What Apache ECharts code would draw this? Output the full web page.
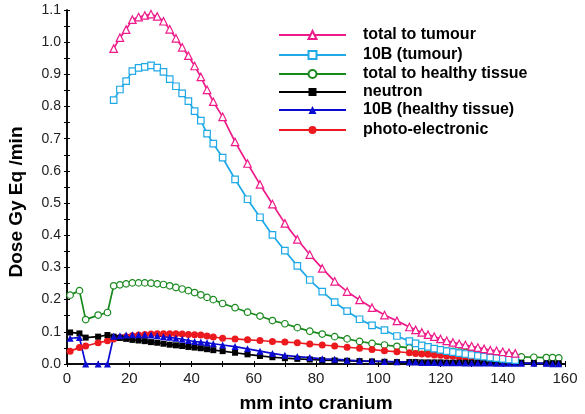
<!DOCTYPE html>
<html>
<head>
<meta charset="utf-8">
<script src="https://cdn.jsdelivr.net/npm/echarts@6/dist/echarts.min.js"></script>
<style>
  html, body { margin: 0; padding: 0; background: #fff; }
  #main { width: 585px; height: 414px; }
</style>
</head>
<body>
<div id="main"></div>
<script>
// depth (mm) sample positions
var xNear = [1, 4, 6, 10, 13];
var xMid = [15, 17, 19, 21, 23, 25, 27, 29, 31, 33, 35, 37, 39, 41, 43, 45, 47,
            50, 54, 58, 62, 66, 70, 74, 78, 82, 86, 90, 94, 98, 102, 106, 110,
            112, 114, 116, 118, 120, 122, 124, 126, 128, 130, 132, 134, 136, 138, 140, 142, 144];
var xTail = [146, 150, 154, 156, 158];

// total to tumour (xMid)
var totalTumour = [0.98, 1.014, 1.039, 1.07, 1.078, 1.083, 1.087, 1.08, 1.065, 1.04, 1.012, 0.984, 0.958, 0.926, 0.892, 0.852, 0.815,
  0.768, 0.69, 0.623, 0.558, 0.497, 0.437, 0.387, 0.34, 0.297, 0.257, 0.225, 0.199, 0.175, 0.152, 0.134, 0.115,
  0.106, 0.098, 0.091, 0.085, 0.078, 0.072, 0.067, 0.063, 0.059, 0.055, 0.051, 0.047, 0.043, 0.041, 0.038, 0.035, 0.033];
// 10B (tumour) (xMid)
var boronTumour = [0.82, 0.853, 0.879, 0.91, 0.92, 0.923, 0.928, 0.921, 0.908, 0.885, 0.863, 0.841, 0.817, 0.786, 0.756, 0.716, 0.685,
  0.641, 0.574, 0.512, 0.456, 0.401, 0.352, 0.305, 0.261, 0.225, 0.192, 0.164, 0.139, 0.12, 0.105, 0.087, 0.071,
  0.064, 0.058, 0.053, 0.048, 0.044, 0.04, 0.037, 0.034, 0.031, 0.028, 0.025, 0.023, 0.02, 0.018, 0.016, 0.014, 0.012];
// total to healthy tissue (xNear + xMid + xTail)
var totalHealthy = [0.214, 0.228, 0.138, 0.152, 0.16,
  0.243, 0.246, 0.249, 0.252, 0.252, 0.252, 0.251, 0.249, 0.247, 0.243, 0.238, 0.233, 0.228, 0.222, 0.215, 0.207, 0.2,
  0.188, 0.175, 0.161, 0.149, 0.135, 0.125, 0.113, 0.102, 0.093, 0.085, 0.078, 0.07, 0.064, 0.059, 0.055, 0.05,
  0.048, 0.046, 0.045, 0.043, 0.042, 0.04, 0.039, 0.037, 0.036, 0.034, 0.033, 0.031, 0.03, 0.029, 0.027, 0.026, 0.024,
  0.022, 0.021, 0.02, 0.02, 0.019];
// neutron (xNear + xMid + xTail)
var neutron = [0.098, 0.095, 0.082, 0.085, 0.09,
  0.085, 0.081, 0.078, 0.075, 0.073, 0.071, 0.068, 0.066, 0.063, 0.06, 0.058, 0.056, 0.053, 0.051, 0.049, 0.046, 0.043,
  0.04, 0.035, 0.03, 0.025, 0.021, 0.018, 0.016, 0.014, 0.012, 0.011, 0.01, 0.009, 0.008, 0.007, 0.006, 0.006,
  0.006, 0.005, 0.005, 0.005, 0.005, 0.004, 0.004, 0.004, 0.004, 0.004, 0.003, 0.003, 0.003, 0.003, 0.003, 0.003, 0.003,
  0.003, 0.003, 0.002, 0.002, 0.002];
// 10B (healthy tissue) (xNear + xMid + xTail)
var boronHealthy = [0.08, 0.082, 0, 0, 0,
  0.086, 0.088, 0.09, 0.091, 0.091, 0.091, 0.09, 0.088, 0.085, 0.083, 0.08, 0.077, 0.073, 0.07, 0.068, 0.066, 0.063,
  0.059, 0.054, 0.047, 0.04, 0.033, 0.027, 0.023, 0.02, 0.016, 0.015, 0.012, 0.01, 0.009, 0.008, 0.007, 0.006,
  0.006, 0.005, 0.005, 0.005, 0.004, 0.004, 0.004, 0.004, 0.003, 0.003, 0.003, 0.003, 0.003, 0.002, 0.002, 0.002, 0.002,
  0.002, 0.002, 0.002, 0.001, 0.001];
// photo-electronic (xNear + xMid)
var photo = [0.04, 0.051, 0.056, 0.066, 0.072,
  0.078, 0.082, 0.085, 0.088, 0.09, 0.092, 0.093, 0.094, 0.094, 0.094, 0.094, 0.093, 0.092, 0.091, 0.09, 0.087, 0.084,
  0.08, 0.078, 0.075, 0.073, 0.07, 0.068, 0.066, 0.062, 0.059, 0.056, 0.052, 0.049, 0.045, 0.041, 0.038, 0.035,
  0.033, 0.031, 0.03, 0.028, 0.027, 0.025, 0.024, 0.022, 0.021, 0.02, 0.019, 0.018, 0.017, 0.016, 0.015, 0.014, 0.013];

var legendNames = ['total to tumour', '10B (tumour)', 'total to healthy tissue', 'neutron', '10B (healthy tissue)', 'photo-electronic'];
var yTicks = ['0.0', '0.1', '0.2', '0.3', '0.4', '0.5', '0.6', '0.7', '0.8', '0.9', '1.0', '1.1'];

var FONT = '"Liberation Sans", Arial, Helvetica, sans-serif';

function pairs(xs, ys) {
  return xs.map(function (x, i) { return [x, ys[i]]; });
}
var xFull = xNear.concat(xMid).concat(xTail);
var xNoTail = xNear.concat(xMid);

function mkSeries(name, xs, ys, col, symbol, size, hollow) {
  return {
    name: name,
    type: 'line',
    data: pairs(xs, ys),
    symbol: symbol,
    symbolSize: size,
    showAllSymbol: true,
    lineStyle: { color: col, width: 1.7 },
    itemStyle: hollow ? { color: '#fff', borderColor: col, borderWidth: 1.2 } : { color: col, borderColor: col, borderWidth: 0 },
    emphasis: { disabled: true }
  };
}

// legend row tops (px)
var legendRows = [27, 47, 66, 84, 102, 122];

var myChart = echarts.init(document.getElementById('main'));
myChart.setOption({
  animation: false,
  backgroundColor: '#fff',
  textStyle: { fontFamily: FONT },
  grid: { left: 67, right: 20, top: 10, bottom: 50, containLabel: false, outerBoundsMode: 'none' },
  legend: legendNames.map(function (n, i) {
    return {
      data: [n],
      left: 278,
      top: legendRows[i],
      padding: 0,
      itemWidth: 67,
      itemHeight: 10,
      selectedMode: false,
      textStyle: { fontSize: 16, fontWeight: 'bold', color: '#000', fontFamily: FONT, padding: [0, 0, 0, 12] }
    };
  }),
  xAxis: [{
    type: 'value', min: 0, max: 160, interval: 20,
    name: 'mm into cranium', nameLocation: 'middle', nameGap: 30,
    nameTextStyle: { fontSize: 19, fontWeight: 'bold', color: '#000', fontFamily: FONT },
    axisLine: { lineStyle: { color: '#000', width: 1.5 } },
    axisTick: { inside: false, length: 3, lineStyle: { color: '#000' } },
    minorTick: { show: true, splitNumber: 2, length: 3, lineStyle: { color: '#000' } },
    axisLabel: { fontSize: 15, color: '#222', margin: 7, fontFamily: FONT },
    splitLine: { show: false }
  }, {
    type: 'value', position: 'top', min: 0, max: 160, interval: 20,
    axisLine: { lineStyle: { color: '#000', width: 1.5 } },
    axisTick: { inside: false, length: 3, lineStyle: { color: '#000' } },
    minorTick: { show: true, splitNumber: 2, length: 3, lineStyle: { color: '#000' } },
    axisLabel: { show: false },
    splitLine: { show: false }
  }],
  yAxis: [{
    type: 'value', min: 0, max: 1.1, interval: 0.1,
    axisLine: { show: true, lineStyle: { color: '#000', width: 1.5 } },
    axisTick: { show: true, inside: false, length: 3, lineStyle: { color: '#000' } },
    minorTick: { show: true, splitNumber: 2, length: 3, lineStyle: { color: '#000' } },
    axisLabel: {
      fontSize: 14, color: '#222', margin: 6, fontFamily: FONT,
      formatter: function (v) { return yTicks[Math.round(v * 10)]; }
    },
    splitLine: { show: false }
  }, {
    type: 'value', position: 'right', min: 0, max: 1.1, interval: 0.1,
    axisLine: { show: true, lineStyle: { color: '#000', width: 1.5 } },
    axisTick: { show: true, inside: false, length: 3, lineStyle: { color: '#000' } },
    minorTick: { show: true, splitNumber: 2, length: 3, lineStyle: { color: '#000' } },
    axisLabel: { show: false },
    splitLine: { show: false }
  }],
  graphic: [{
    type: 'text',
    x: 17, y: 202,
    rotation: Math.PI / 2,
    style: {
      text: 'Dose Gy Eq /min',
      font: 'bold 19px ' + FONT,
      fill: '#000',
      align: 'center',
      verticalAlign: 'middle'
    }
  }],
  series: [
    mkSeries('total to healthy tissue', xFull, totalHealthy, '#18891c', 'circle', 6.5, true),
    mkSeries('photo-electronic', xNoTail, photo, '#ec1a1f', 'circle', 7, false),
    mkSeries('neutron', xFull, neutron, '#000000', 'rect', 6, false),
    mkSeries('10B (healthy tissue)', xFull, boronHealthy, '#0a0ad2', 'triangle', 7, false),
    mkSeries('10B (tumour)', xMid, boronTumour, '#1fa9e6', 'rect', 6.5, true),
    mkSeries('total to tumour', xMid, totalTumour, '#ee1a8a', 'triangle', 7.5, true)
  ]
});
</script>
</body>
</html>
